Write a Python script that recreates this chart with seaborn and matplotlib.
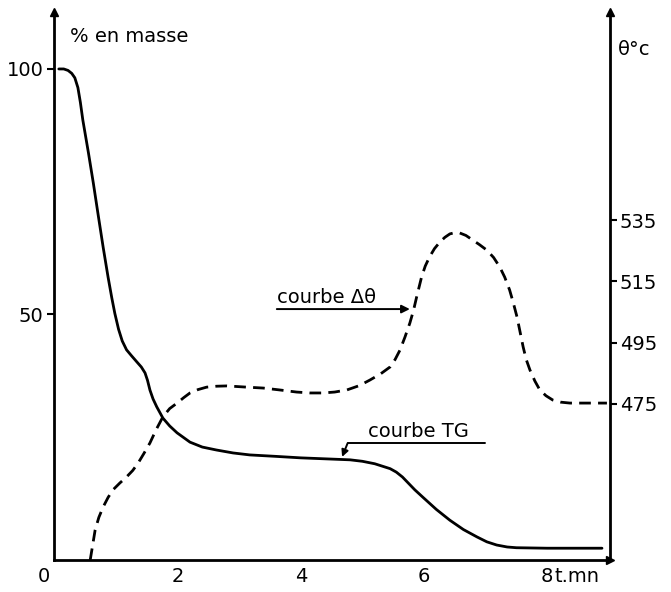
import matplotlib
matplotlib.use("Agg")
import matplotlib.pyplot as plt
import seaborn as sns
import pandas as pd

# Thermogravimetric curve (mass %) versus time (min)
tg_time = [0.07, 0.15, 0.22, 0.28, 0.33, 0.38, 0.42, 0.46, 0.55, 0.63, 0.71, 0.79,
           0.87, 0.93, 0.98, 1.04, 1.1, 1.17, 1.25, 1.34, 1.41, 1.47, 1.51, 1.55,
           1.6, 1.66, 1.76, 1.87, 1.99, 2.2, 2.4, 2.63, 2.9, 3.17, 3.6, 4.0,
           4.4, 4.8, 5.0, 5.2, 5.35, 5.45, 5.55, 5.65, 5.75, 5.85, 5.98, 6.2,
           6.42, 6.64, 6.86, 7.02, 7.18, 7.35, 7.5, 8.0, 8.89]
tg_mass = [100, 100, 99.7, 99.1, 98.2, 96.2, 93.2, 89.6, 83, 76.8, 70.2, 63.7,
           57.6, 53.4, 50.2, 47, 44.6, 42.8, 41.6, 40.3, 39.3, 38.1, 36.6, 34.6,
           32.8, 31.2, 28.9, 27.3, 25.9, 24.0, 23.0, 22.4, 21.8, 21.4, 21.1, 20.8,
           20.6, 20.4, 20.1, 19.6, 19.0, 18.6, 17.9, 16.9, 15.6, 14.3, 12.8, 10.3,
           8.1, 6.2, 4.7, 3.7, 3.05, 2.65, 2.5, 2.4, 2.4]

# Temperature difference curve (°C) versus time (min)
dt_time = [0.58, 0.62, 0.66, 0.72, 0.79, 0.87, 0.95, 1.06, 1.17, 1.27, 1.36, 1.45,
           1.55, 1.65, 1.76, 1.87, 1.99, 2.1, 2.2, 2.33, 2.47, 2.63, 2.8, 3.12,
           3.39, 3.65, 3.93, 4.15, 4.36, 4.55, 4.75, 4.95, 5.12, 5.3, 5.45, 5.53,
           5.61, 5.69, 5.77, 5.83, 5.88, 5.96, 6.02, 6.09, 6.17, 6.26, 6.34, 6.42,
           6.5, 6.58, 6.68, 6.79, 6.9, 7.02, 7.13, 7.23, 7.31, 7.39, 7.45, 7.51,
           7.56, 7.61, 7.66, 7.72, 7.8, 7.88, 7.98, 8.09, 8.22, 8.37, 8.97]
dt_temp = [424.1, 429, 433.9, 438, 441.4, 444.5, 447, 449.2, 451.2, 453.3, 455.8, 458.8,
           462.3, 466.6, 470.8, 473.5, 475.3, 477.1, 478.6, 479.7, 480.5, 480.8, 480.9, 480.5,
           480.2, 479.6, 478.9, 478.6, 478.6, 478.9, 479.6, 481.0, 482.8, 484.9, 487.1, 489.5,
           492.6, 496.8, 501.4, 505.6, 509.9, 516.4, 520, 523, 525.7, 527.9, 529.4, 530.5,
           530.9, 530.8, 530, 528.5, 527, 525.2, 522.8, 519.7, 516.4, 512.2, 508, 503.4,
           498.5, 493.6, 489.5, 486.1, 482.5, 479.6, 477.7, 476.3, 475.6, 475.3, 475.3]

x_ticks = [1, 2, 3, 4, 5, 6, 7, 8]
x_tick_labels = ["", "2", "", "4", "", "6", "", "8"]
mass_ticks = [50, 100]
temp_ticks = [475, 495, 515, 535]

sns.set_style("white")
plt.rcParams["font.family"] = ["DejaVu Sans"]
plt.rcParams["text.color"] = "black"
plt.rcParams["xtick.color"] = "black"
plt.rcParams["ytick.color"] = "black"
plt.rcParams["xtick.labelcolor"] = "black"
plt.rcParams["ytick.labelcolor"] = "black"
FS = 14

tg_df = pd.DataFrame({"t": tg_time, "masse": tg_mass})
dt_df = pd.DataFrame({"t": dt_time, "theta": dt_temp})

fig = plt.figure(figsize=(6.71, 5.92), dpi=100)
ax = fig.add_axes([54.5 / 671, 1 - 560 / 592, (610 - 54.5) / 671, (560 - 12) / 592])
ax2 = ax.twinx()

sns.lineplot(data=tg_df, x="t", y="masse", ax=ax, color="black", linewidth=2,
             solid_joinstyle="round", solid_capstyle="round")
sns.lineplot(data=dt_df, x="t", y="theta", ax=ax2, color="black", linewidth=2,
             dash_joinstyle="round")
ax2.lines[0].set_dashes((4.2, 2.6))

ax.set_xlim(0, 9.02)
ax.set_ylim(0, 111.6)
ax2.set_ylim(424.1, 602.9)

for a in (ax, ax2):
    a.set_xlabel("")
    a.set_ylabel("")
    a.patch.set_visible(False)

for s in ("top", "right"):
    ax.spines[s].set_visible(False)
for s in ("top", "left", "bottom"):
    ax2.spines[s].set_visible(False)
for sp in (ax.spines["left"], ax.spines["bottom"], ax2.spines["right"]):
    sp.set_linewidth(2)
    sp.set_color("black")

ax.set_xticks(x_ticks)
ax.set_xticklabels(x_tick_labels, fontsize=FS, color="black")
ax.tick_params(axis="x", direction="in", length=6, width=1.5, pad=5, colors="black")
ax.set_yticks(mass_ticks)
ax.set_yticklabels([str(v) for v in mass_ticks], fontsize=FS, color="black")
ax.tick_params(axis="y", direction="out", length=5, width=1.5, pad=3, colors="black")
ax2.set_yticks(temp_ticks)
ax2.set_yticklabels([str(v) for v in temp_ticks], fontsize=FS, color="black")
ax2.tick_params(axis="y", direction="out", length=5, width=1.5, pad=2, colors="black")

# Axis arrowheads
ax.plot(0, 1, marker="^", color="black", markersize=6, transform=ax.transAxes, clip_on=False)
ax.plot(1, 1, marker="^", color="black", markersize=6, transform=ax.transAxes, clip_on=False)
ax.plot(1, 0, marker=">", color="black", markersize=6, transform=ax.transAxes, clip_on=False)

# Axis titles and origin label
ax.text(0.028, 0.956, "% en masse", transform=ax.transAxes, fontsize=FS,
        ha="left", va="center", color="black")
ax.text(1.0144, 0.9307, "θ°c", transform=ax.transAxes, fontsize=FS,
        ha="left", va="center", color="black")
ax.annotate("0", xy=(0, 0), xytext=(-8, -5), textcoords="offset points",
            ha="center", va="top", fontsize=FS, annotation_clip=False, color="black")
ax.annotate("t.mn", xy=(8, 0), xytext=(5, -5), textcoords="offset points",
            ha="left", va="top", fontsize=FS, annotation_clip=False, color="black")

# Curve labels
ax.text(3.61, 53.4, "courbe Δθ", fontsize=FS, ha="left", va="center", color="black")
ax.annotate("", xy=(5.77, 51.1), xytext=(3.61, 51.1),
            arrowprops=dict(arrowstyle="-|>", lw=1.4, color="black",
                            mutation_scale=12, shrinkA=0, shrinkB=0))
ax.text(5.09, 26.1, "courbe TG", fontsize=FS, ha="left", va="center", color="black")
ax.plot([6.99, 4.76], [23.8, 23.8], color="black", lw=1.4)
ax.annotate("", xy=(4.67, 21.0), xytext=(4.76, 23.8),
            arrowprops=dict(arrowstyle="-|>", lw=1.4, color="black",
                            mutation_scale=10, shrinkA=0, shrinkB=0))

fig.savefig("out.png", dpi=100, facecolor="white")
